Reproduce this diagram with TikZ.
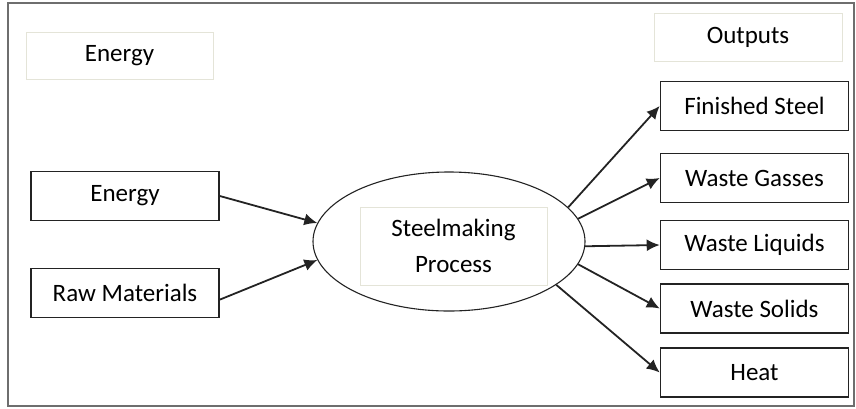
\documentclass[tikz,border=0pt]{standalone}
\usepackage{fontspec}
\setmainfont{Carlito}
\usepackage{tikz}
\usetikzlibrary{shapes, arrows.meta}
\definecolor{framegray}{RGB}{110, 110, 110}
\definecolor{faintline}{RGB}{228, 228, 216}
\definecolor{boxline}{RGB}{35, 35, 35}

\begin{document}
\begin{tikzpicture}[x=1pt, y=-1pt,
  flowbox/.style={draw=boxline, line width=1.6pt, minimum width=188pt, minimum height=49pt, inner sep=0pt, font=\fontsize{25}{30}\selectfont},
  faintbox/.style={draw=faintline, line width=0.8pt, inner sep=0pt, font=\fontsize{25}{30}\selectfont},
  flow/.style={draw=boxline, line width=1.8pt, -{Latex[length=13pt, width=12pt]}}]

  \useasboundingbox (0,0) rectangle (856,408);

  % Outer frame
  \draw[framegray, line width=1.3pt] (8,3) rectangle (854,406);

  % Headings
  \node[faintbox, minimum width=187pt, minimum height=47pt] (energyhead) at (119.5, 55.5) {Energy};
  \node[faintbox, minimum width=188pt, minimum height=48pt] (outputshead) at (748, 37) {Outputs};

  % Inputs
  \node[flowbox] (energy) at (125, 196) {Energy};
  \node[flowbox] (raw) at (125, 293) {Raw Materials};

  % Process
  \node[draw=boxline, ellipse, line width=1.1pt, minimum width=272pt, minimum height=139pt, inner sep=0pt] (process) at (449, 241.5) {};
  \node[faintbox, minimum width=187pt, minimum height=78pt, align=center, font=\fontsize{25}{36}\selectfont] (processlabel) at (453.5, 246) {Steelmaking\\Process};

  % Outputs
  \node[flowbox] (steel) at (754.5, 106) {Finished Steel};
  \node[flowbox] (gasses) at (754.5, 178) {Waste Gasses};
  \node[flowbox] (liquids) at (754.5, 245) {Waste Liquids};
  \node[flowbox] (solids) at (754.5, 308.5) {Waste Solids};
  \node[flowbox] (heat) at (754.5, 372.5) {Heat};

  % Flows in and out
  \draw[flow] (energy.east) -- (process.172);
  \draw[flow] (raw.-4) -- (process.188);
  \draw[flow] (process.16) -- (steel.west);
  \draw[flow] (process.10) -- (gasses.west);
  \draw[flow] (process.-2) -- (liquids.west);
  \draw[flow] (process.-10) -- (solids.west);
  \draw[flow] (process.-22) -- (heat.west);
\end{tikzpicture}
\end{document}
